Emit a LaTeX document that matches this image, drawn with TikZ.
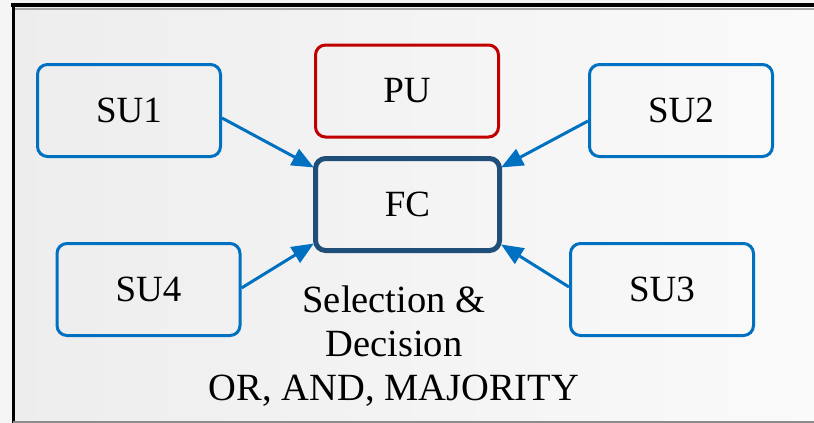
\documentclass[tikz,border=0pt]{standalone}
\usepackage{fontspec}
\setmainfont{Liberation Serif}
\usetikzlibrary{arrows.meta}
\definecolor{subl}{RGB}{0,112,192}
\definecolor{fcbl}{RGB}{31,78,121}
\definecolor{pured}{RGB}{192,0,0}
\tikzset{
  subox/.style={draw=subl, line width=3pt, rounded corners=10pt, minimum width=183pt, minimum height=92pt, font=\fontsize{37}{40}\selectfont, text=black},
  pubox/.style={subox, draw=pured},
  fcbox/.style={subox, draw=fcbl, line width=5pt, minimum width=184pt},
  arr/.style={draw=subl, line width=3pt, -{Triangle[length=22pt,width=18pt]}, shorten >=-1pt},
}
\begin{document}
\begin{tikzpicture}[x=1pt,y=-1pt]
\useasboundingbox (0,0) rectangle (814,423);
\fill[gray!8] (0,0) rectangle (814,423);
\shade[shading angle=135, left color=black!7, right color=black!2] (13,5) rectangle (814,422);
% frame
\draw[black!35, line width=2pt] (13,8.5) -- (814,8.5);
\draw[black, line width=4pt] (11,5) -- (814,5);
\draw[black, line width=3pt] (13,3) -- (13,423);
\draw[black!45, line width=2pt] (13,422) -- (814,422);
% nodes
\node[subox] (su1) at (129,110.5) {SU1};
\node[subox] (su2) at (681,110.5) {SU2};
\node[subox] (su4) at (148.5,289.5) {SU4};
\node[subox] (su3) at (662,289.5) {SU3};
\node[pubox] (pu) at (407,91) {PU};
\node[fcbox] (fc) at (407.5,204.5) {FC};
\node[align=center, anchor=base, font=\fontsize{38.5}{44}\selectfont, text=black] (sd) at (394,400) {Selection \&\\Decision\\OR, AND, MAJORITY};
% arrows
\draw[arr] ([yshift=-7.5pt]su1.east) -- ([yshift=-11pt]fc.north west);
\draw[arr] ([yshift=-10.5pt]su2.west) -- ([yshift=-11pt]fc.north east);
\draw[arr] ([yshift=1.5pt]su4.east) -- ([yshift=9pt]fc.south west);
\draw[arr] ([yshift=2.5pt]su3.west) -- ([yshift=8pt]fc.south east);
\end{tikzpicture}
\end{document}
